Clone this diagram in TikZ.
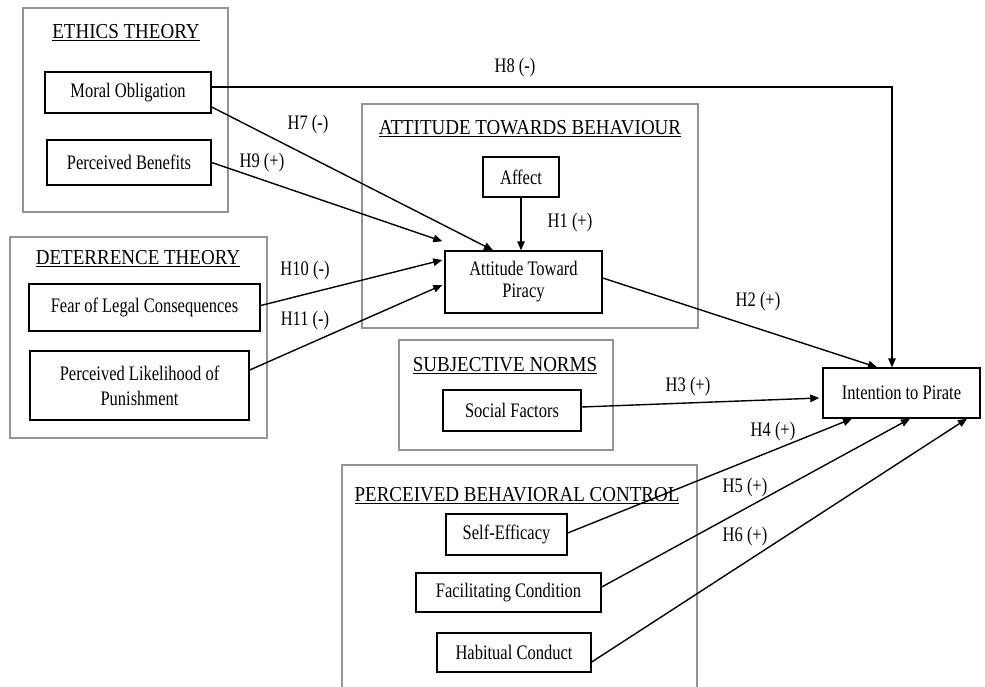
\documentclass[tikz,border=0pt]{standalone}
\usepackage{fontspec}
\usepackage{graphicx}
\setmainfont{Liberation Serif}
\usetikzlibrary{arrows.meta}
\newcommand{\vtxt}[1]{\scalebox{1}[1.25]{#1}}
\newcommand{\vttl}[1]{\scalebox{1}[1.12]{\underline{#1}}}
\begin{document}
\begin{tikzpicture}[x=1pt,y=-1pt,
  box/.style={draw=black,line width=1.4pt,fill=white,inner sep=0pt,align=center,font=\fontsize{16.5}{22}\selectfont},
  group/.style={draw=black!42,line width=1.3pt},
  grouptitle/.style={inner sep=0pt,font=\fontsize{19}{22}\selectfont},
  lbl/.style={inner sep=0pt,font=\fontsize{16.5}{19}\selectfont},
  arr/.style={line width=1.4pt,-{Triangle[length=9pt,width=7.5pt]}}]
\useasboundingbox[fill=white] (0,0) rectangle (985,687);
% group boxes
\draw[group] (23,8) rectangle (228,212);
\draw[group] (10,237) rectangle (267,438);
\draw[group] (362,104) rectangle (698,328);
\draw[group] (399,340) rectangle (613,450);
\draw[group] (342,687) -- (342,465) -- (697,465) -- (697,687);
% group titles
\node[grouptitle] (tEth) at (126,33) {\vttl{ETHICS THEORY}};
\node[grouptitle] (tDet) at (138,259) {\vttl{DETERRENCE THEORY}};
\node[grouptitle] (tAtt) at (530,129) {\vttl{ATTITUDE TOWARDS BEHAVIOUR}};
\node[grouptitle] (tSub) at (505,366) {\vttl{SUBJECTIVE NORMS}};
\node[grouptitle] (tPbc) at (517,496) {\vttl{PERCEIVED BEHAVIORAL CONTROL}};
% boxes
\node[box,minimum width=166pt,minimum height=41pt] (mo) at (128,92.5) {\vtxt{Moral Obligation}};
\node[box,minimum width=164pt,minimum height=45pt] (pb) at (129,162.5) {\vtxt{Perceived Benefits}};
\node[box,minimum width=231pt,minimum height=47pt] (flc) at (144.5,307.5) {\vtxt{Fear of Legal Consequences}};
\node[box,minimum width=219pt,minimum height=69pt,font=\fontsize{16.5}{25}\selectfont] (plp) at (139.5,385.5) {\vtxt{Perceived Likelihood of}\\\vtxt{Punishment}};
\node[box,minimum width=76pt,minimum height=40pt] (aff) at (521,177) {\vtxt{Affect}};
\node[box,minimum width=157pt,minimum height=62pt] (atp) at (523.5,282) {\vtxt{Attitude Toward}\\\vtxt{Piracy}};
\node[box,minimum width=138pt,minimum height=41pt] (sf) at (512,410.5) {\vtxt{Social Factors}};
\node[box,minimum width=121pt,minimum height=41pt] (se) at (506.5,534.5) {\vtxt{Self-Efficacy}};
\node[box,minimum width=185pt,minimum height=39pt] (fc) at (508.5,592.5) {\vtxt{Facilitating Condition}};
\node[box,minimum width=154pt,minimum height=39pt] (hc) at (514,652.5) {\vtxt{Habitual Conduct}};
\node[box,minimum width=157pt,minimum height=50pt] (itp) at (901.5,393) {\vtxt{Intention to Pirate}};
% connectors
\draw[arr] ([yshift=5.5pt]mo.east) -| ([xshift=-9.5pt]itp.north);
\draw[arr] ([yshift=-14.5pt]mo.east) -- ([xshift=-30.5pt]atp.north);
\draw[arr] (pb.east) -- ([xshift=-2pt,yshift=9pt]atp.north west);
\draw[arr] ([yshift=2pt]flc.east) -- ([xshift=-2pt,yshift=22pt]atp.west);
\draw[arr] ([yshift=15.5pt]plp.east) -- ([xshift=-2pt,yshift=-3pt]atp.west);
\draw[arr] (aff.south) -- (aff.south |- atp.north);
\draw[arr] ([yshift=4pt]atp.east) -- ([xshift=-24.5pt]itp.north);
\draw[arr] ([yshift=3.5pt]sf.east) -- ([xshift=-3pt,yshift=-5pt]itp.west);
\draw[arr] ([yshift=1.5pt]se.east) -- ([xshift=-49.5pt]itp.south);
\draw[arr] ([yshift=5.5pt]fc.east) -- ([xshift=8.5pt]itp.south);
\draw[arr] ([yshift=-9.5pt]hc.east) -- ([xshift=65.5pt]itp.south);
% labels
\node[lbl] (l8) at (515,68) {\vtxt{H8 (-)}};
\node[lbl] (l7) at (308,125) {\vtxt{H7 (-)}};
\node[lbl] (l9) at (262,163) {\vtxt{H9 (+)}};
\node[lbl] (l10) at (305,271) {\vtxt{H10 (-)}};
\node[lbl] (l11) at (305,321) {\vtxt{H11 (-)}};
\node[lbl] (l1) at (570,223) {\vtxt{H1 (+)}};
\node[lbl] (l2) at (758,302) {\vtxt{H2 (+)}};
\node[lbl] (l3) at (688,387) {\vtxt{H3 (+)}};
\node[lbl] (l4) at (773,432) {\vtxt{H4 (+)}};
\node[lbl] (l5) at (745,488) {\vtxt{H5 (+)}};
\node[lbl] (l6) at (745,537) {\vtxt{H6 (+)}};
\end{tikzpicture}
\end{document}
